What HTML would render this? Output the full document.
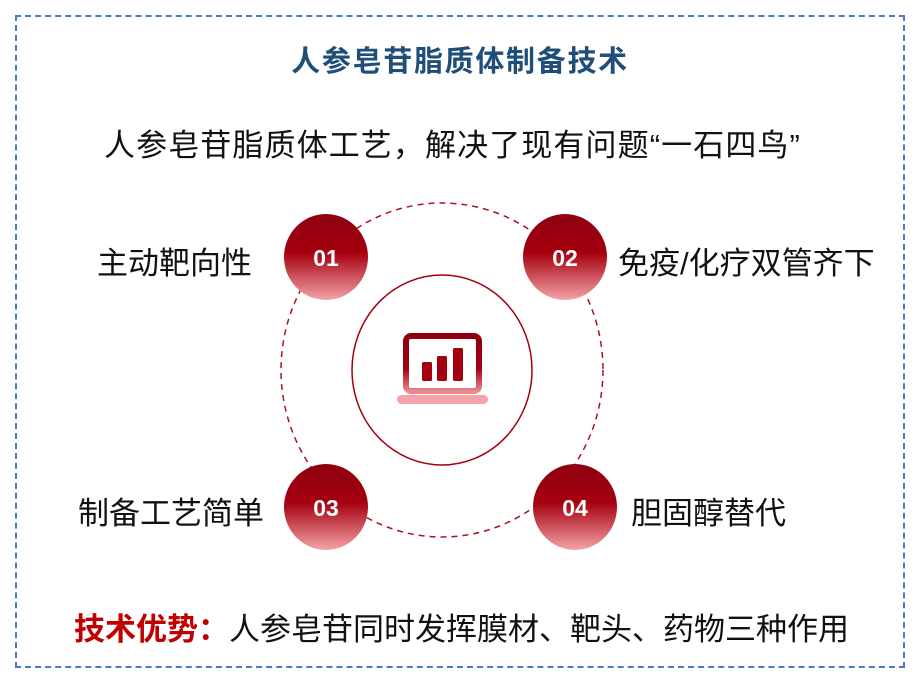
<!DOCTYPE html>
<html><head><meta charset="utf-8"><style>
body{margin:0;width:920px;height:684px;background:#fff;position:relative;overflow:hidden;font-family:"Liberation Sans","Noto Sans CJK SC",sans-serif}
.t{position:absolute;white-space:nowrap;color:#111}
</style></head><body>
<div style="position:absolute;left:15px;top:15px;width:886px;height:649px;border:2px dashed #4a78d0"></div>
<div class="t" style="left:0;width:920px;text-align:center;top:38px;font-size:29px;letter-spacing:1.7px;font-weight:bold;color:#1f4e79">人参皂苷脂质体制备技术</div>
<div class="t" style="left:104px;top:120px;font-size:31px;letter-spacing:1.1px">人参皂苷脂质体工艺，解决了现有问题“一石四鸟”</div>
<div class="t" style="left:97px;top:238px;font-size:31px">主动靶向性</div>
<div class="t" style="left:618px;top:238px;font-size:31px">免疫/化疗双管齐下</div>
<div class="t" style="left:78px;top:488px;font-size:31px">制备工艺简单</div>
<div class="t" style="left:631px;top:488px;font-size:31px">胆固醇替代</div>
<div class="t" style="left:74px;top:604px;font-size:31px"><b style="color:#c00000">技术优势：</b>人参皂苷同时发挥膜材、靶头、药物三种作用</div>
<svg width="920" height="684" style="position:absolute;left:0;top:0">
<defs><linearGradient id="g" x1="0" y1="0" x2="0" y2="1">
<stop offset="0" stop-color="#8e0010"/><stop offset="0.45" stop-color="#a5000f"/><stop offset="1" stop-color="#f4a3a8"/></linearGradient>
<linearGradient id="g2" x1="0" y1="0" x2="0" y2="1"><stop offset="0" stop-color="#8e0010"/><stop offset="0.6" stop-color="#a5000f"/><stop offset="1" stop-color="#e88a90"/></linearGradient></defs>
<ellipse cx="442" cy="370" rx="161" ry="167" fill="none" stroke="#b0101e" stroke-width="1.5" stroke-dasharray="6,5"/>
<ellipse cx="442" cy="370" rx="90" ry="95" fill="#fff" stroke="#a5000f" stroke-width="1.5"/>
<rect x="406" y="336" width="73" height="55" rx="5" fill="none" stroke="url(#g2)" stroke-width="6"/>
<rect x="422" y="362" width="10" height="19" rx="1.5" fill="#a5000f"/>
<rect x="437" y="356" width="10" height="25" rx="1.5" fill="#a5000f"/>
<rect x="453" y="348" width="10" height="33" rx="1.5" fill="#a5000f"/>
<rect x="397" y="395" width="91" height="9" rx="4.5" fill="#f4a3a8"/>
<g font-family="Liberation Sans" font-weight="bold" font-size="23" fill="#fff" text-anchor="middle">
<ellipse cx="326" cy="257" rx="42" ry="43" fill="url(#g)"/><text x="326" y="266">01</text>
<ellipse cx="565" cy="257" rx="42" ry="43" fill="url(#g)"/><text x="565" y="266">02</text>
<ellipse cx="326" cy="507" rx="42" ry="43" fill="url(#g)"/><text x="326" y="516">03</text>
<ellipse cx="575" cy="507" rx="42" ry="43" fill="url(#g)"/><text x="575" y="516">04</text>
</g>
</svg>
</body></html>
